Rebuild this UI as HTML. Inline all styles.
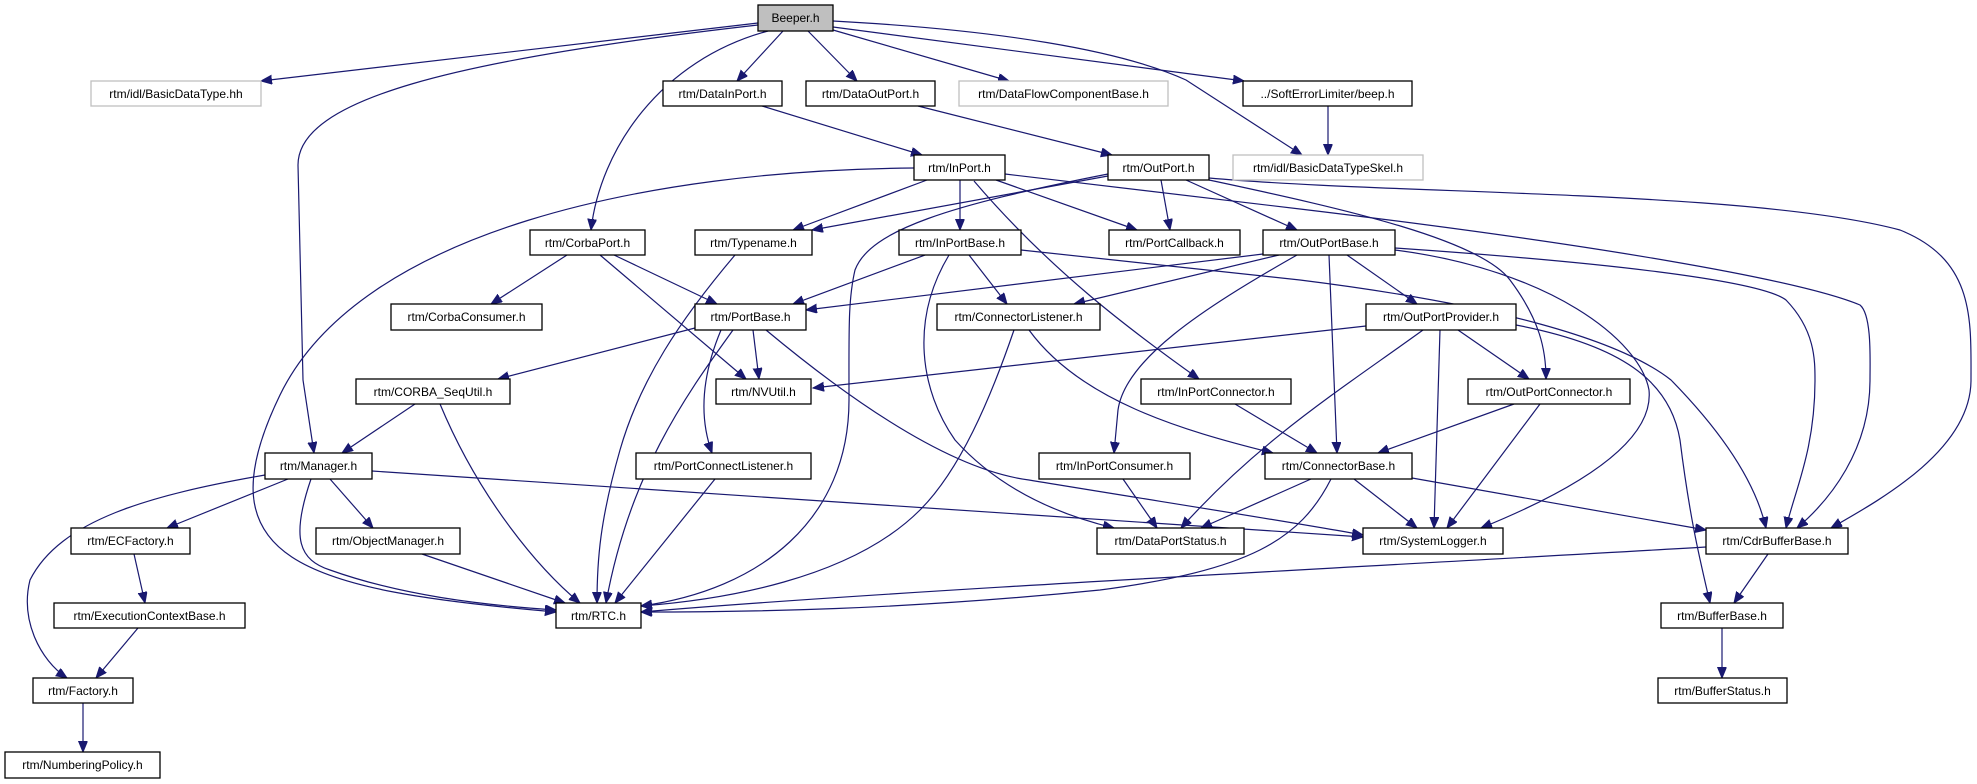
<!DOCTYPE html>
<html><head><meta charset="utf-8"><style>
html,body{margin:0;padding:0;background:#fff;}
svg{display:block;}
text{font-family:"Liberation Sans",Helvetica,Arial,sans-serif;font-size:12px;fill:#000;}
.e{fill:none;stroke:#191970;stroke-width:1.2;marker-end:url(#a);}
.n{fill:#fff;stroke:#000;stroke-width:1.3;}
.g{fill:#fff;stroke:#bfbfbf;stroke-width:1.3;}
</style></head><body>
<svg width="1977" height="784" viewBox="0 0 1977 784" xmlns="http://www.w3.org/2000/svg">
<defs><marker id="a" markerUnits="userSpaceOnUse" markerWidth="12" markerHeight="10" refX="11" refY="4.5" orient="auto"><path d="M0,0 L11,4.5 L0,9 Z" fill="#191970" stroke="#191970"/></marker></defs>
<g>
<path class="e" d="M758,23 L261,81"/>
<path class="e" d="M758,25 C450,60 298,100 298,165 L303,380 L314,453"/>
<path class="e" d="M768,31 C660,60 600,150 591,230"/>
<path class="e" d="M783,31 L737,81"/>
<path class="e" d="M808,31 L857,81"/>
<path class="e" d="M833,30 L1009,81"/>
<path class="e" d="M833,27 L1244,81"/>
<path class="e" d="M833,21 C1000,30 1120,50 1186,80 L1302,155"/>
<path class="e" d="M1328,106 L1328,155"/>
<path class="e" d="M762,106 L922,155"/>
<path class="e" d="M918,106 L1112,155"/>
<path class="e" d="M914,168 C650,170 360,230 280,395 S300,590 556,612"/>
<path class="e" d="M927,180 L793,230"/>
<path class="e" d="M960,180 L960,230"/>
<path class="e" d="M974,181 C1050,270 1130,330 1199,379"/>
<path class="e" d="M996,180 L1137,230"/>
<path class="e" d="M1209,178 C1400,195 1750,190 1900,230 C1975,260 1971,320 1971,380 C1971,450 1880,500 1831,528"/>
<path class="e" d="M1005,174 L1300,209 C1600,245 1800,280 1860,305 C1872,315 1870,360 1870,380 C1870,450 1830,500 1797,528"/>
<path class="e" d="M1209,180 C1350,210 1480,240 1510,280 C1540,320 1546,350 1546,379"/>
<path class="e" d="M1395,248 C1600,262 1760,280 1786,300 C1815,330 1815,360 1815,380 C1815,450 1795,490 1786,528"/>
<path class="e" d="M1395,250 C1550,270 1640,340 1649,390 C1655,450 1550,500 1481,528"/>
<path class="e" d="M1021,250 L1300,280 C1500,305 1620,340 1671,380 C1720,430 1755,480 1766,528"/>
<path class="e" d="M1516,325 C1620,345 1670,380 1680,440 C1690,520 1700,560 1710,603"/>
<path class="e" d="M1768,554 L1734,603"/>
<path class="e" d="M1722,628 L1722,678"/>
<path class="e" d="M1706,547 C1400,565 900,590 641,612"/>
<path class="e" d="M1412,478 L1706,530"/>
<path class="e" d="M1354,479 L1417,528"/>
<path class="e" d="M1311,479 L1201,528"/>
<path class="e" d="M1331,479 C1300,540 1250,570 1100,590 C900,610 750,612 641,612"/>
<path class="e" d="M1514,404 L1378,453"/>
<path class="e" d="M1540,404 L1447,528"/>
<path class="e" d="M1458,330 L1529,379"/>
<path class="e" d="M1440,330 L1434,528"/>
<path class="e" d="M1423,330 C1340,390 1260,440 1181,528"/>
<path class="e" d="M1366,326 L813,388"/>
<path class="e" d="M1329,255 L1337,453"/>
<path class="e" d="M1347,255 L1417,304"/>
<path class="e" d="M1263,254 L806,310"/>
<path class="e" d="M1279,255 L1074,304"/>
<path class="e" d="M1297,255 C1200,310 1125,360 1118,410 L1114,453"/>
<path class="e" d="M1235,404 L1317,453"/>
<path class="e" d="M1029,330 C1080,400 1180,430 1273,453"/>
<path class="e" d="M1014,330 C990,400 960,470 920,510 C850,580 720,600 641,606"/>
<path class="e" d="M949,255 C910,320 920,390 955,440 C1000,490 1060,515 1114,528"/>
<path class="e" d="M1123,479 L1157,528"/>
<path class="e" d="M925,255 L793,304"/>
<path class="e" d="M969,255 L1007,304"/>
<path class="e" d="M1108,174 C950,205 870,230 855,270 C848,300 849,330 849,400 C849,520 760,590 641,606"/>
<path class="e" d="M1108,176 L812,230"/>
<path class="e" d="M1161,180 L1170,230"/>
<path class="e" d="M1186,180 L1297,230"/>
<path class="e" d="M567,255 L491,304"/>
<path class="e" d="M614,255 L717,304"/>
<path class="e" d="M600,255 L746,379"/>
<path class="e" d="M735,255 C680,320 640,380 620,450 C600,520 597,560 597,603"/>
<path class="e" d="M733,330 C690,390 630,470 606,603"/>
<path class="e" d="M715,479 L615,603"/>
<path class="e" d="M721,330 C700,380 700,420 712,453"/>
<path class="e" d="M753,330 L759,379"/>
<path class="e" d="M766,330 C850,400 950,470 1029,480 C1150,500 1280,520 1363,535"/>
<path class="e" d="M695,328 L498,379"/>
<path class="e" d="M415,404 L342,453"/>
<path class="e" d="M440,404 C480,500 540,570 580,603"/>
<path class="e" d="M265,475 C150,495 60,520 30,580 C20,620 40,660 67,678"/>
<path class="e" d="M288,479 L167,528"/>
<path class="e" d="M330,479 L373,528"/>
<path class="e" d="M311,479 C290,540 300,560 330,570 C400,595 480,605 556,610"/>
<path class="e" d="M372,471 L1363,537"/>
<path class="e" d="M422,554 L565,603"/>
<path class="e" d="M134,554 L145,603"/>
<path class="e" d="M138,628 L96,678"/>
<path class="e" d="M83,703 L83,752"/>
</g>
<g>
<rect x="758" y="5" width="75" height="26" fill="#bfbfbf" stroke="#000" stroke-width="1.3"/><text x="795.5" y="22" text-anchor="middle">Beeper.h</text>
<rect class="g" x="91" y="81" width="170" height="25"/><text x="176" y="98" text-anchor="middle">rtm/idl/BasicDataType.hh</text>
<rect class="n" x="663" y="81" width="119" height="25"/><text x="722.5" y="98" text-anchor="middle">rtm/DataInPort.h</text>
<rect class="n" x="806" y="81" width="129" height="25"/><text x="870.5" y="98" text-anchor="middle">rtm/DataOutPort.h</text>
<rect class="g" x="959" y="81" width="209" height="25"/><text x="1063.5" y="98" text-anchor="middle">rtm/DataFlowComponentBase.h</text>
<rect class="n" x="1243" y="81" width="169" height="25"/><text x="1327.5" y="98" text-anchor="middle">../SoftErrorLimiter/beep.h</text>
<rect class="n" x="914" y="155" width="91" height="25"/><text x="959.5" y="172" text-anchor="middle">rtm/InPort.h</text>
<rect class="n" x="1108" y="155" width="101" height="25"/><text x="1158.5" y="172" text-anchor="middle">rtm/OutPort.h</text>
<rect class="g" x="1233" y="155" width="190" height="25"/><text x="1328" y="172" text-anchor="middle">rtm/idl/BasicDataTypeSkel.h</text>
<rect class="n" x="530" y="230" width="115" height="25"/><text x="587.5" y="247" text-anchor="middle">rtm/CorbaPort.h</text>
<rect class="n" x="695" y="230" width="117" height="25"/><text x="753.5" y="247" text-anchor="middle">rtm/Typename.h</text>
<rect class="n" x="899" y="230" width="122" height="25"/><text x="960" y="247" text-anchor="middle">rtm/InPortBase.h</text>
<rect class="n" x="1109" y="230" width="131" height="25"/><text x="1174.5" y="247" text-anchor="middle">rtm/PortCallback.h</text>
<rect class="n" x="1263" y="230" width="132" height="25"/><text x="1329" y="247" text-anchor="middle">rtm/OutPortBase.h</text>
<rect class="n" x="391" y="304" width="151" height="26"/><text x="466.5" y="321" text-anchor="middle">rtm/CorbaConsumer.h</text>
<rect class="n" x="695" y="304" width="111" height="26"/><text x="750.5" y="321" text-anchor="middle">rtm/PortBase.h</text>
<rect class="n" x="937" y="304" width="163" height="26"/><text x="1018.5" y="321" text-anchor="middle">rtm/ConnectorListener.h</text>
<rect class="n" x="1366" y="304" width="150" height="26"/><text x="1441" y="321" text-anchor="middle">rtm/OutPortProvider.h</text>
<rect class="n" x="356" y="379" width="154" height="25"/><text x="433" y="396" text-anchor="middle">rtm/CORBA_SeqUtil.h</text>
<rect class="n" x="716" y="379" width="95" height="25"/><text x="763.5" y="396" text-anchor="middle">rtm/NVUtil.h</text>
<rect class="n" x="1141" y="379" width="150" height="25"/><text x="1216" y="396" text-anchor="middle">rtm/InPortConnector.h</text>
<rect class="n" x="1468" y="379" width="162" height="25"/><text x="1549" y="396" text-anchor="middle">rtm/OutPortConnector.h</text>
<rect class="n" x="265" y="453" width="107" height="26"/><text x="318.5" y="470" text-anchor="middle">rtm/Manager.h</text>
<rect class="n" x="636" y="453" width="175" height="26"/><text x="723.5" y="470" text-anchor="middle">rtm/PortConnectListener.h</text>
<rect class="n" x="1039" y="453" width="151" height="26"/><text x="1114.5" y="470" text-anchor="middle">rtm/InPortConsumer.h</text>
<rect class="n" x="1265" y="453" width="147" height="26"/><text x="1338.5" y="470" text-anchor="middle">rtm/ConnectorBase.h</text>
<rect class="n" x="71" y="528" width="119" height="26"/><text x="130.5" y="545" text-anchor="middle">rtm/ECFactory.h</text>
<rect class="n" x="316" y="528" width="144" height="26"/><text x="388" y="545" text-anchor="middle">rtm/ObjectManager.h</text>
<rect class="n" x="1097" y="528" width="147" height="26"/><text x="1170.5" y="545" text-anchor="middle">rtm/DataPortStatus.h</text>
<rect class="n" x="1363" y="528" width="140" height="26"/><text x="1433" y="545" text-anchor="middle">rtm/SystemLogger.h</text>
<rect class="n" x="1706" y="528" width="142" height="26"/><text x="1777" y="545" text-anchor="middle">rtm/CdrBufferBase.h</text>
<rect class="n" x="54" y="603" width="191" height="25"/><text x="149.5" y="620" text-anchor="middle">rtm/ExecutionContextBase.h</text>
<rect class="n" x="556" y="603" width="85" height="25"/><text x="598.5" y="620" text-anchor="middle">rtm/RTC.h</text>
<rect class="n" x="1661" y="603" width="122" height="25"/><text x="1722" y="620" text-anchor="middle">rtm/BufferBase.h</text>
<rect class="n" x="33" y="678" width="100" height="25"/><text x="83" y="695" text-anchor="middle">rtm/Factory.h</text>
<rect class="n" x="1658" y="678" width="129" height="25"/><text x="1722.5" y="695" text-anchor="middle">rtm/BufferStatus.h</text>
<rect class="n" x="5" y="752" width="155" height="26"/><text x="82.5" y="769" text-anchor="middle">rtm/NumberingPolicy.h</text>
</g>
</svg>
</body></html>
